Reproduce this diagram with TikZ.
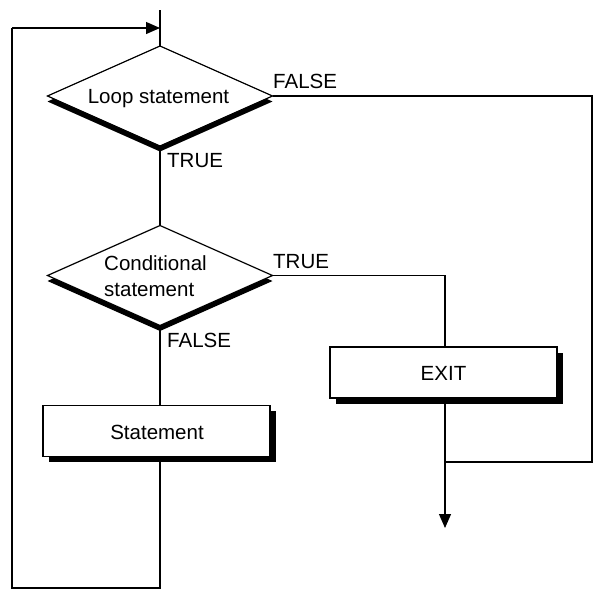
\documentclass[tikz,border=0pt]{standalone}
\usepackage{fontspec}
\setmainfont{Liberation Sans}
\usetikzlibrary{shapes.geometric,arrows.meta,shadows}
\begin{document}
\begin{tikzpicture}[x=1pt,y=-1pt,
  every node/.style={font=\fontsize{20.5}{25}\selectfont},
  conn/.style={line width=1.2pt},
  decision/.style={diamond,draw,line width=1.2pt,fill=white,minimum width=225pt,minimum height=100pt,inner sep=0pt,outer sep=0pt,
    drop shadow={shadow xshift=0pt,shadow yshift=-5.5pt,opacity=1,fill=black}},
  process/.style={rectangle,draw,line width=1.2pt,fill=white,minimum width=227pt,minimum height=51pt,inner sep=0pt,outer sep=0pt,
    drop shadow={shadow xshift=5.5pt,shadow yshift=-5.5pt,opacity=1,fill=black}},
  lbl/.style={inner sep=0pt,anchor=base west},
  arr/.style={-{Triangle[length=14pt,width=12pt]}}]
\useasboundingbox (0,0) rectangle (593,590);
% coordinates for free ends / corners
\coordinate (top) at (160,10);
\coordinate (tl) at (12,28);
\coordinate (bl) at (12,588);
\coordinate (br) at (160,588);
\coordinate (fr) at (592,462);
\coordinate (m) at (445,462);
\coordinate (end) at (445,528);
% connectors behind nodes
\draw[conn] (top) -- (160,60);
\draw[conn] (160,96) -- (160,250);
\draw[conn] (160,275) -- (160,560);
% nodes
\node[decision] (d1) at (160,96) {};
\node[decision] (d2) at (160,275.5) {};
\node[process] (st) at (156.5,431) {};
\node[process] (ex) at (443.5,372.5) {};
% texts
\node[inner sep=0pt,anchor=base] (d1t) at (158.5,103) {Loop statement};
\node[lbl] (d2t1) at (104,270) {Conditional};
\node[lbl] (d2t2) at (104,296) {statement};
\node[inner sep=0pt,anchor=base] (stt) at (157,439) {Statement};
\node[inner sep=0pt,anchor=base] (ext) at (443.5,380) {EXIT};
\node[lbl] (l1) at (167,167) {TRUE};
\node[lbl] (l2) at (273,88) {FALSE};
\node[lbl] (l3) at (273,268) {TRUE};
\node[lbl] (l4) at (167,347) {FALSE};
% connectors
\draw[conn] (d1.south) -- (d2.north);
\draw[conn] (d2.south) -- (d2.south |- st.north);
\draw[conn] (d2.south |- st.south) -- (br) -- (bl) -- (tl);
\draw[conn,arr] (tl) -- (tl -| top);
\draw[conn] (d1.east) -- (d1.east -| fr) -- (fr) -- (m);
\draw[conn] (d2.east) -- (d2.east -| m) -- (m |- ex.north);
\draw[conn,arr] (m |- ex.south) -- (end);
\end{tikzpicture}
\end{document}
